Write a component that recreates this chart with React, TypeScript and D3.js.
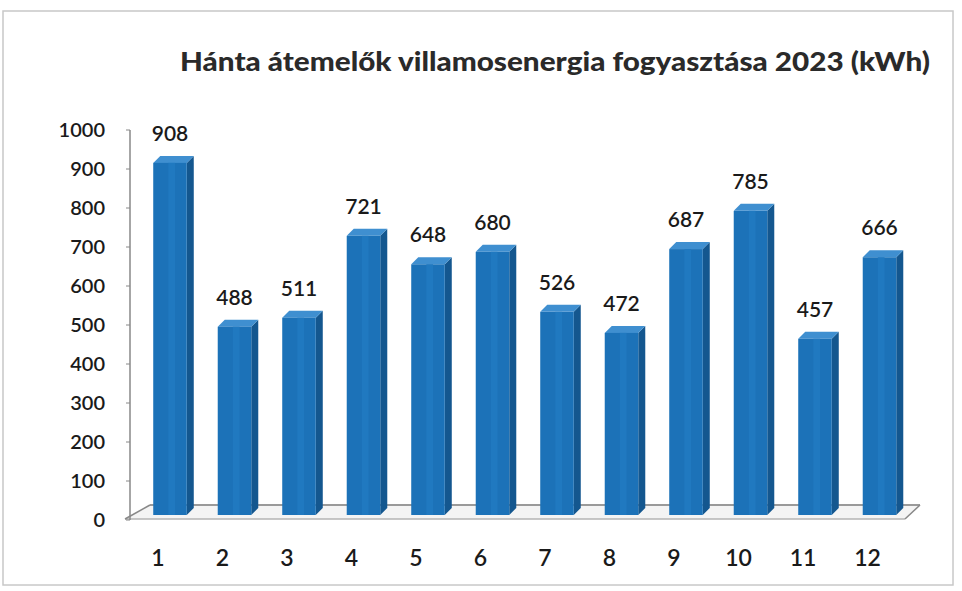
import React from 'react';
import * as d3 from 'd3';

const months = ['1', '2', '3', '4', '5', '6', '7', '8', '9', '10', '11', '12'];
const consumption = [908, 488, 511, 721, 648, 680, 526, 472, 687, 785, 457, 666];
const yTicks = [0, 100, 200, 300, 400, 500, 600, 700, 800, 900, 1000];
const title = 'Hánta átemelők villamosenergia fogyasztása 2023 (kWh)';

const W = 962;
const H = 591;
const depth = 7; // 3d offset of the bars
const font = "Lato, 'Open Sans', sans-serif";

const App = () => {
  const x = d3.scaleBand<string>()
    .domain(months)
    .range([137.75, 911.75])
    .paddingInner(0.48)
    .paddingOuter(0.24);

  const y = d3.scaleLinear().domain([0, 1000]).range([520, 130]);

  const bw = x.bandwidth();
  const floorFront = y(0) - 1;
  const floorBack = floorFront - 14;

  return (
    <svg width={W} height={H} style={{ display: 'block', position: 'absolute', left: 0, top: 0, background: '#fff' }}>
      <rect x={3} y={11} width={950} height={574} fill="none" stroke="#c8c8c8" strokeWidth={1.5} />

      <text x={180} y={71} textLength={750} lengthAdjust="spacingAndGlyphs" fontFamily={font}
        fontWeight={900} fontSize={27} fill="#2a2a2a">{title}</text>

      {/* floor */}
      <path d={`M${125},${floorFront} L${150},${floorBack} L${920},${floorBack} L${905},${floorFront} Z`}
        fill="#f4f4f4" stroke="none" />
      <line x1={150} y1={floorBack} x2={920} y2={floorBack} stroke="#9a9a9a" strokeWidth={2} />
      <line x1={125} y1={floorFront} x2={905} y2={floorFront} stroke="#b5b5b5" strokeWidth={1.5} />
      <line x1={125} y1={floorFront} x2={150} y2={floorBack} stroke="#888" strokeWidth={1.5} />
      <line x1={905} y1={floorFront} x2={920} y2={floorBack} stroke="#888" strokeWidth={1.5} />

      {/* y axis */}
      <line x1={130} y1={y(1000)} x2={130} y2={y(0)} stroke="#888" strokeWidth={1.5} />
      {yTicks.map(t => (
        <g key={t}>
          <line x1={126} x2={130} y1={y(t)} y2={y(t)} stroke="#888" strokeWidth={1} />
          <text x={105} y={y(t)} dy="0.35em" textAnchor="end" fontFamily={font}
            fontWeight={600} fontSize={20} fill="#1a1a1a">{t}</text>
        </g>
      ))}

      {/* bars */}
      {consumption.map((v, i) => {
        const x0 = x(months[i]) as number;
        const top = y(v) - 3;
        const bottom = floorFront - 4;
        return (
          <g key={i}>
            <path d={`M${x0 + bw},${top} L${x0 + bw + depth},${top - depth} L${x0 + bw + depth},${bottom - depth} L${x0 + bw},${bottom} Z`}
              fill="#14578f" />
            <path d={`M${x0},${top} L${x0 + depth},${top - depth} L${x0 + bw + depth},${top - depth} L${x0 + bw},${top} Z`}
              fill="#3f8fd0" />
            <rect x={x0} y={top} width={bw} height={bottom - top} fill="#1c72b8" />
            <rect x={x0 + bw * 0.45} y={top} width={bw * 0.2} height={bottom - top} fill="#2079c0" />
            <text x={x0 + bw / 2} y={top - 22} textAnchor="middle" fontFamily={font}
              fontWeight={600} fontSize={21} fill="#1a1a1a">{v}</text>
          </g>
        );
      })}

      {/* category labels */}
      {months.map(m => (
        <text key={m} x={(x(m) as number) + bw / 2 - 12} y={566} textAnchor="middle"
          fontFamily={font} fontWeight={600} fontSize={23} fill="#1a1a1a">{m}</text>
      ))}
    </svg>
  );
};

export default App;
